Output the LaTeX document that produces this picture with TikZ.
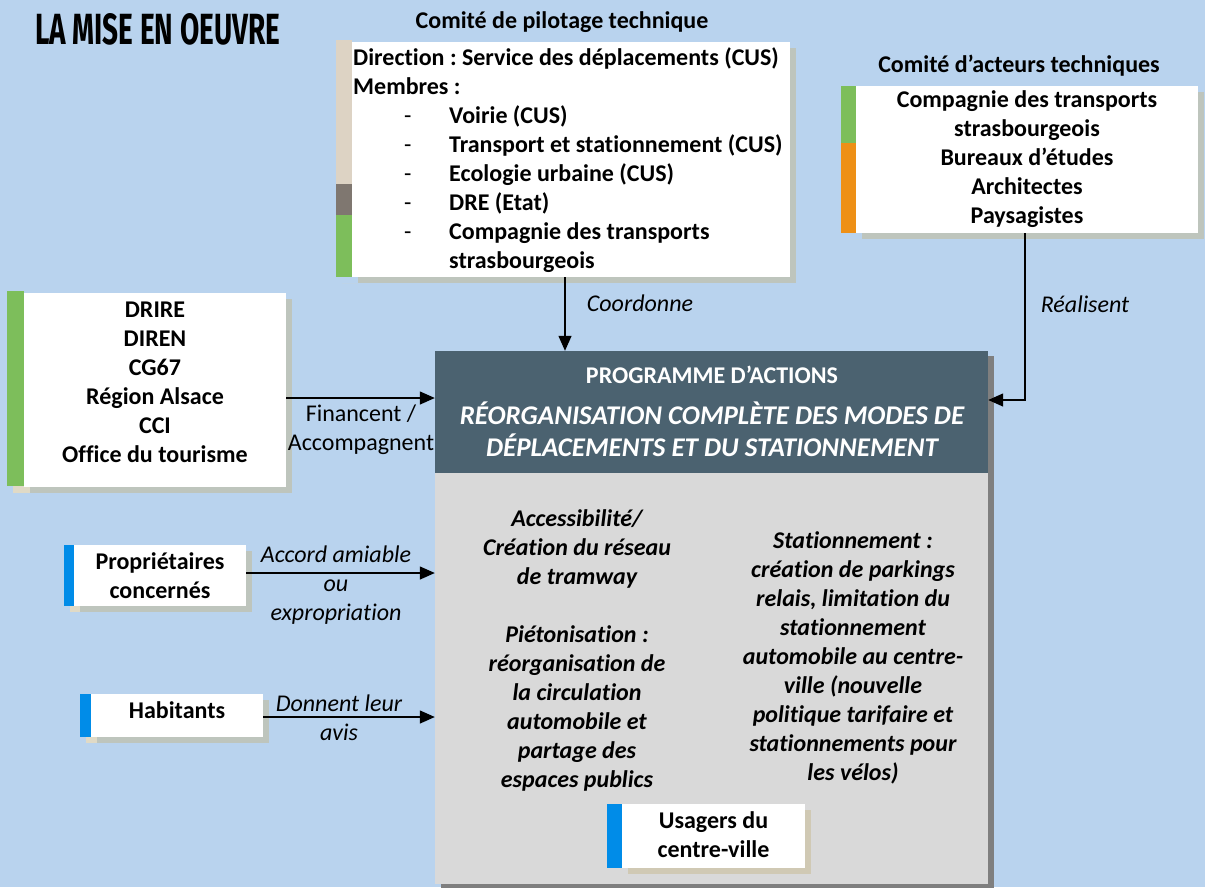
\documentclass[tikz,border=0pt]{standalone}
\usepackage{fontspec}
\setmainfont{Carlito}[Ligatures=NoCommon]
\newfontfamily\postertitle{Fira Sans}
\usetikzlibrary{arrows.meta}
\frenchspacing

\definecolor{sky}{HTML}{B9D3EE}
\definecolor{slate}{HTML}{4B6270}
\definecolor{panel}{HTML}{D9D9D9}
\definecolor{barbeige}{HTML}{DDD3C4}
\definecolor{bartaupe}{HTML}{7F7770}
\definecolor{bargreen}{HTML}{7DBE5B}
\definecolor{barorange}{HTML}{EE9016}
\definecolor{barblue}{HTML}{008CE8}
\definecolor{shadegray}{HTML}{BEC5BD}
\definecolor{shadebeige}{HTML}{E0DAC6}
\definecolor{shadedark}{HTML}{7F7F7F}
\definecolor{shadetan}{HTML}{D0C9B4}

\pgfdeclarelayer{ground}
\pgfdeclarelayer{shade}
\pgfsetlayers{ground,shade,main}

\tikzset{
  card/.style={fill=white, draw=none, inner sep=0pt, minimum width=#1},
  txt/.style={inner sep=0pt, align=center, font=\fontsize{24pt}{29pt}\selectfont\bfseries},
  lbl/.style={inner sep=0pt, align=center, font=\fontsize{24pt}{29pt}\selectfont\itshape},
  lblup/.style={inner sep=0pt, align=center, font=\fontsize{24pt}{29pt}\selectfont},
  bodytxt/.style={inner sep=0pt, align=center, font=\fontsize{24pt}{29pt}\selectfont\bfseries\itshape},
  arr/.style={line width=1.3pt, -{Triangle[length=15pt,width=13pt]}},
}

\begin{document}
\begin{tikzpicture}[x=1pt,y=-1pt]
\begin{pgfonlayer}{ground}
  \fill[sky] (0,0) rectangle (1205,887);
\end{pgfonlayer}
\useasboundingbox (0,0) rectangle (1205,887);

% title
\node[anchor=south west, inner sep=0pt] (title) at (35,45)
  {\resizebox{245pt}{31pt}{\postertitle\bfseries LA MISE EN OEUVRE}};

% boxes
\node[card=438pt, minimum height=235pt] (pilot) at (571,159.5) {};
\node[card=342pt, minimum height=147pt] (acteurs) at (1027,159.5) {};
\node[card=262pt, minimum height=194pt] (fin) at (155,390) {};
\node[card=172pt, minimum height=61pt] (prop) at (160,575.5) {};
\node[card=172pt, minimum height=43pt] (hab) at (177,715.5) {};
\node[fill=panel, inner sep=0pt, minimum width=553pt, minimum height=411pt] (body) at (711.5,678.5) {};
\node[fill=slate, inner sep=0pt, minimum width=553pt, minimum height=122pt] (header) at (711.5,412) {};
\node[card=183pt, minimum height=64pt] (usag) at (713.5,836) {};

% shadows
\begin{pgfonlayer}{shade}
  \fill[shadegray] ([shift={(6pt,-6pt)}]pilot.north west) rectangle ([shift={(6pt,-6pt)}]pilot.south east);
  \fill[shadebeige] ([shift={(-10pt,-6pt)}]pilot.south west) rectangle ([shift={(6pt,-6pt)}]pilot.south west);
  \fill[shadegray] ([shift={(6pt,-6pt)}]acteurs.north west) rectangle ([shift={(6pt,-6pt)}]acteurs.south east);
  \fill[shadebeige] ([shift={(-9pt,-6pt)}]acteurs.south west) rectangle ([shift={(6pt,-6pt)}]acteurs.south west);
  \fill[shadegray] ([shift={(6pt,-6pt)}]fin.north west) rectangle ([shift={(6pt,-6pt)}]fin.south east);
  \fill[shadebeige] ([shift={(-11pt,-6pt)}]fin.north west) rectangle ([shift={(6pt,-6pt)}]fin.south west);
  \fill[shadegray] ([shift={(6pt,-6pt)}]prop.north west) rectangle ([shift={(6pt,-6pt)}]prop.south east);
  \fill[shadebeige] ([shift={(-4pt,-6pt)}]prop.north west) rectangle ([shift={(6pt,-6pt)}]prop.south west);
  \fill[shadegray] ([shift={(6pt,-6pt)}]hab.north west) rectangle ([shift={(6pt,-6pt)}]hab.south east);
  \fill[shadebeige] ([shift={(-5pt,-6pt)}]hab.north west) rectangle ([shift={(6pt,-6pt)}]hab.south west);
  \fill[shadedark] ([shift={(6pt,-5pt)}]header.north west) rectangle ([shift={(6pt,-5pt)}]body.south east);
\end{pgfonlayer}
\fill[shadetan] ([shift={(6pt,-6pt)}]usag.north west) rectangle ([shift={(6pt,-6pt)}]usag.south east);
\node[card=183pt, minimum height=64pt] at (usag) {};

% colour bars on the left edge of the boxes
\fill[barbeige] (336,40) rectangle (pilot.west |- 0,184);
\fill[bartaupe] (336,184) rectangle (pilot.west |- 0,215);
\fill[bargreen] (336,215) rectangle (pilot.south west);
\fill[bargreen] ([xshift=-15pt]acteurs.north west) rectangle (acteurs.west |- 0,143);
\fill[barorange] (841,143) rectangle (acteurs.south west);
\fill[bargreen] ([shift={(-17pt,2pt)}]fin.north west) rectangle ([yshift=1pt]fin.south west);
\fill[barblue] ([xshift=-10pt]prop.north west) rectangle (prop.south west);
\fill[barblue] ([xshift=-11pt]hab.north west) rectangle (hab.south west);
\fill[barblue] ([xshift=-15pt]usag.north west) rectangle (usag.south west);

% box titles
\node[txt] (pilottitle) at (562,22) {Comité de pilotage technique};
\node[txt] (acteurstitle) at (1019,66) {Comité d’acteurs techniques};

% box contents
\node[txt, align=left, anchor=west] (pilottxt) at (353,160) {%
Direction : Service des déplacements (CUS)\\
Membres :\\
\hspace*{51pt}\makebox[45pt][l]{\mdseries -}Voirie (CUS)\\
\hspace*{51pt}\makebox[45pt][l]{\mdseries -}Transport et stationnement (CUS)\\
\hspace*{51pt}\makebox[45pt][l]{\mdseries -}Ecologie urbaine (CUS)\\
\hspace*{51pt}\makebox[45pt][l]{\mdseries -}DRE (Etat)\\
\hspace*{51pt}\makebox[45pt][l]{\mdseries -}Compagnie des transports\\
\hspace*{96pt}strasbourgeois};
\node[txt] (acteurstxt) at (1027,159) {Compagnie des transports\\strasbourgeois\\Bureaux d’études\\Architectes\\Paysagistes};
\node[txt] (fintxt) at (155,382.5) {DRIRE\\DIREN\\CG67\\Région Alsace\\CCI\\Office du tourisme};
\node[txt] (proptxt) at (160,575.5) {Propriétaires\\concernés};
\node[txt] (habtxt) at (177,710) {Habitants};
\node[txt] (usagtxt) at (713.5,835) {Usagers du\\centre-ville};

% programme header
\node[txt, text=white] (progtitle) at (712,375) {PROGRAMME D’ACTIONS};
\node[inner sep=0pt, align=center, text=white, font=\fontsize{27pt}{32pt}\selectfont\bfseries\itshape] (progsub) at (712,429)
  {RÉORGANISATION COMPLÈTE DES MODES DE\\DÉPLACEMENTS ET DU STATIONNEMENT};

% programme body
\node[bodytxt] (colleft) at (577,650) {Accessibilité/\\Création du réseau\\de tramway\\[29pt]Piétonisation :\\réorganisation de\\la circulation\\automobile et\\partage des\\espaces publics};
\node[bodytxt] (colright) at (853,658) {Stationnement :\\création de parkings\\relais, limitation du\\stationnement\\automobile au centre-\\ville (nouvelle\\politique tarifaire et\\stationnements pour\\les vélos)};

% connectors
\draw[arr] ([xshift=-6pt]pilot.south) -- ([xshift=-6pt]pilot.south |- header.north);
\draw[arr] ([xshift=-2pt]acteurs.south) |- ([yshift=12pt]header.east);
\draw[arr] ([yshift=-8pt]fin.east) -- ([yshift=-8pt]fin.east -| header.west);
\draw[arr] ([yshift=2.5pt]prop.east) -- ([yshift=2.5pt]prop.east -| body.west);
\draw[arr] ([yshift=-1.5pt]hab.east) -- ([yshift=-1.5pt]hab.east -| body.west);

% connector labels
\node[lbl] (coordlbl) at (640,303) {Coordonne};
\node[lbl] (reallbl) at (1085,304) {Réalisent};
\node[lblup] (finlbl) at (361,430) {Financent /\\Accompagnent};
\node[lbl] (proplbl) at (336,585) {Accord amiable\\ou\\expropriation};
\node[lbl] (hablbl) at (339,717.5) {Donnent leur\\avis};
\end{tikzpicture}
\end{document}
